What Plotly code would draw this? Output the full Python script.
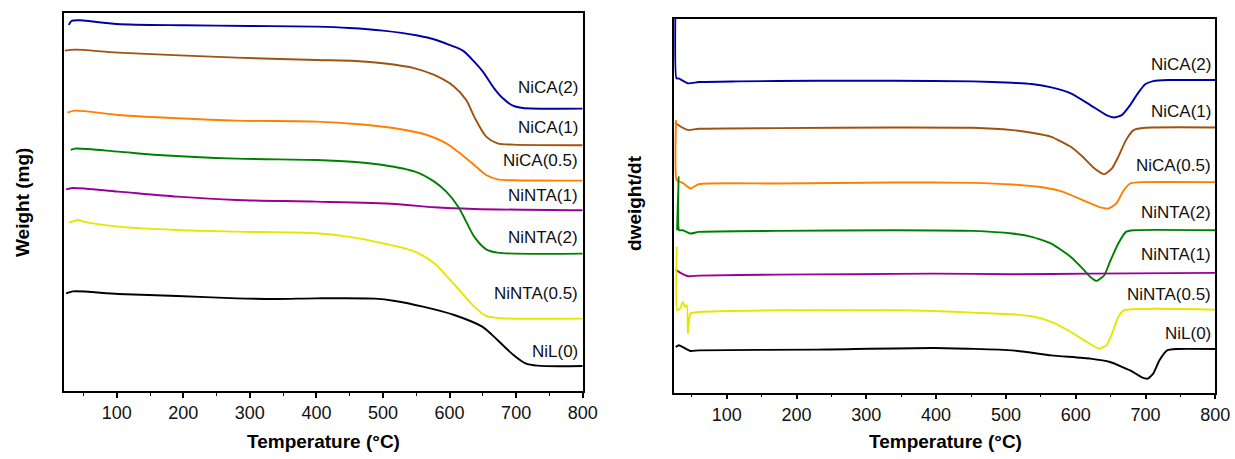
import plotly.graph_objects as go

W, H = 1235, 459

names = ["NiCA(2)", "NiCA(1)", "NiCA(0.5)", "NiNTA(1)", "NiNTA(2)", "NiNTA(0.5)", "NiL(0)"]
colors = {"NiCA(2)": "#0000aa", "NiCA(1)": "#a0520f", "NiCA(0.5)": "#ff8000",
          "NiNTA(2)": "#008000", "NiNTA(1)": "#990099", "NiNTA(0.5)": "#e6e600",
          "NiL(0)": "#000000"}

# ---------- TGA (weight, arbitrary offset units) ----------
tga_T = {
    "NiCA(2)": [28, 32, 45, 100, 200, 300, 400, 450, 500, 550, 580, 600, 620, 637, 650, 667, 680, 696, 710, 800],
    "NiCA(1)": [22, 37, 102, 280, 400, 459, 500, 548, 577, 607, 625, 637, 655, 672, 696, 800],
    "NiCA(0.5)": [26, 37, 102, 191, 280, 400, 459, 518, 566, 595, 619, 637, 655, 672, 696, 800],
    "NiNTA(2)": [31, 37, 102, 162, 280, 400, 459, 500, 548, 577, 595, 613, 625, 637, 655, 672, 800],
    "NiNTA(1)": [24, 34, 102, 191, 280, 400, 518, 577, 637, 800],
    "NiNTA(0.5)": [28, 43, 49, 102, 191, 280, 400, 447, 500, 548, 577, 601, 619, 637, 655, 672, 800],
    "NiL(0)": [24, 34, 102, 191, 280, 340, 400, 488, 518, 560, 607, 649, 672, 696, 714, 732, 800],
}
tga_W = {
    "NiCA(2)": [1098, 1110, 1112, 1101, 1097, 1095, 1093, 1089, 1081, 1067, 1053, 1038, 1021, 988, 958, 908, 878, 855, 849, 847],
    "NiCA(1)": [1021, 1024, 1015, 1000, 993, 990, 983, 968, 948, 913, 873, 823, 763, 743, 739, 737],
    "NiCA(0.5)": [835, 841, 828, 818, 811, 808, 801, 788, 768, 743, 708, 678, 648, 635, 632, 631],
    "NiNTA(2)": [723, 727, 718, 708, 697, 693, 687, 678, 658, 628, 598, 553, 508, 463, 425, 415, 412],
    "NiNTA(1)": [605, 609, 598, 583, 573, 568, 561, 551, 546, 542],
    "NiNTA(0.5)": [505, 513, 509, 493, 483, 478, 473, 463, 443, 418, 383, 333, 293, 253, 225, 219, 217],
    "NiL(0)": [293, 299, 291, 285, 278, 276, 278, 277, 270, 253, 228, 193, 153, 108, 83, 76, 75],
}
tga_label_y = {"NiCA(2)": 911, "NiCA(1)": 790, "NiCA(0.5)": 690, "NiNTA(1)": 585,
               "NiNTA(2)": 461, "NiNTA(0.5)": 291, "NiL(0)": 120}

# ---------- DTG (dweight/dt, arbitrary offset units) ----------
dtg_T = {
    "NiCA(2)": [27.5, 28, 31, 45, 60, 116, 228, 340, 453, 509, 537, 565, 593, 621, 644, 655, 666, 678, 689, 700, 711, 733, 800],
    "NiCA(1)": [25.8, 37, 45, 60, 172, 340, 453, 509, 537, 565, 593, 610, 627, 641, 652, 661, 672, 683, 700, 800],
    "NiCA(0.5)": [27.5, 28.5, 37, 48, 60, 172, 340, 453, 509, 554, 582, 610, 633, 647, 658, 669, 678, 694, 800],
    "NiNTA(2)": [29, 31, 31.8, 37, 48, 60, 172, 340, 453, 509, 537, 565, 593, 610, 621, 630, 641, 649, 661, 672, 683, 800],
    "NiNTA(1)": [27, 31.5, 45, 60, 172, 284, 397, 509, 621, 800],
    "NiNTA(0.5)": [28.5, 29, 33, 37, 40, 43, 44.4, 48, 60, 172, 340, 397, 453, 509, 537, 565, 593, 616, 633, 644, 652, 661, 669, 800],
    "NiL(0)": [27, 31.5, 48, 60, 228, 397, 509, 565, 621, 649, 678, 694, 703, 711, 720, 731, 745, 800],
}
dtg_D = {
    "NiCA(2)": [1300, 942, 942, 927, 931, 933, 935, 935, 933, 929, 925, 915, 897, 862, 832, 825, 832, 862, 897, 925, 934, 937, 937],
    "NiCA(1)": [809, 794, 787, 791, 793, 795, 794, 787, 779, 767, 737, 707, 672, 655, 672, 707, 757, 787, 794, 795],
    "NiCA(0.5)": [817, 637, 629, 612, 625, 627, 630, 629, 624, 615, 602, 577, 557, 552, 567, 607, 627, 631, 631],
    "NiNTA(2)": [487, 647, 487, 487, 477, 482, 485, 487, 485, 477, 467, 447, 407, 372, 347, 335, 352, 392, 447, 482, 487, 487],
    "NiNTA(1)": [369, 362, 349, 351, 354, 355, 357, 355, 357, 359],
    "NiNTA(0.5)": [437, 247, 252, 272, 257, 262, 177, 237, 242, 247, 247, 245, 240, 235, 229, 212, 182, 152, 132, 142, 177, 227, 247, 249],
    "NiL(0)": [137, 142, 125, 127, 129, 134, 127, 112, 102, 92, 67, 47, 42, 57, 97, 127, 131, 131],
}
dtg_label_y = {"NiCA(2)": 985, "NiCA(1)": 844, "NiCA(0.5)": 682, "NiNTA(2)": 539,
               "NiNTA(1)": 415, "NiNTA(0.5)": 295, "NiL(0)": 177}
dtg_order = ["NiCA(2)", "NiCA(1)", "NiCA(0.5)", "NiNTA(2)", "NiNTA(1)", "NiNTA(0.5)", "NiL(0)"]

x_ticks = [100, 200, 300, 400, 500, 600, 700, 800]

fig = go.Figure()
for n in names:
    fig.add_trace(go.Scatter(x=tga_T[n], y=tga_W[n], mode="lines", xaxis="x", yaxis="y",
                             line=dict(color=colors[n], width=1.9, shape="spline", smoothing=0.8),
                             showlegend=False, hoverinfo="skip"))
for n in dtg_order:
    fig.add_trace(go.Scatter(x=dtg_T[n], y=dtg_D[n], mode="lines", xaxis="x2", yaxis="y2",
                             line=dict(color=colors[n], width=1.9, shape="spline", smoothing=0.5),
                             showlegend=False, hoverinfo="skip"))

font_main = "Liberation Sans, Arial, sans-serif"
xa = dict(showline=True, linecolor="black", linewidth=1.5, mirror=True, ticks="outside",
          ticklen=5, tickwidth=1.5, tickcolor="black", tickvals=x_ticks, automargin=False,
          tickfont=dict(size=18, color="#111", family=font_main), showgrid=False, zeroline=False,
          minor=dict(ticks="outside", dtick=50, tick0=0, ticklen=3, tickwidth=1.2, tickcolor="black"))
ya = dict(showline=True, linecolor="black", linewidth=1.5, mirror=True, ticks="", automargin=False,
          showticklabels=False, showgrid=False, zeroline=False)

fig.update_layout(
    template="none",
    width=W, height=H, margin=dict(l=0, r=0, t=0, b=0, pad=0, autoexpand=False), autosize=False,
    paper_bgcolor="white", plot_bgcolor="white",
    xaxis=dict(xa, domain=[64 / W, 582.7 / W], range=[20.8, 800], anchor="y"),
    yaxis=dict(ya, domain=[(H - 391) / H, (H - 13.3) / H], range=[0, 1133], anchor="x"),
    xaxis2=dict(xa, domain=[674 / W, 1215.3 / W], range=[24.5, 800], anchor="y2"),
    yaxis2=dict(ya, domain=[(H - 392.7) / H, (H - 19) / H], range=[0, 1120], anchor="x2"),
)

ann = []
for n in names:
    ann.append(dict(x=796, y=tga_label_y[n], xref="x", yref="y", text=n, showarrow=False,
                    xanchor="right", yanchor="middle",
                    font=dict(size=17, color="#111", family=font_main)))
for n in dtg_order:
    ann.append(dict(x=796, y=dtg_label_y[n], xref="x2", yref="y2", text=n, showarrow=False,
                    xanchor="right", yanchor="middle",
                    font=dict(size=17, color="#111", family=font_main)))
title_font = dict(size=19, color="black", family=font_main)
ann += [
    dict(x=323 / W, y=1 - 441 / H, xref="paper", yref="paper", text="<b>Temperature (°C)</b>",
         showarrow=False, xanchor="center", yanchor="middle", font=title_font),
    dict(x=945 / W, y=1 - 441 / H, xref="paper", yref="paper", text="<b>Temperature (°C)</b>",
         showarrow=False, xanchor="center", yanchor="middle", font=title_font),
    dict(x=22 / W, y=1 - 203 / H, xref="paper", yref="paper", text="<b>Weight (mg)</b>",
         showarrow=False, xanchor="center", yanchor="middle", textangle=-90, font=title_font),
    dict(x=634 / W, y=1 - 203 / H, xref="paper", yref="paper", text="<b>dweight/dt</b>",
         showarrow=False, xanchor="center", yanchor="middle", textangle=-90, font=title_font),
]
fig.update_layout(annotations=ann)

fig.write_html("out.html")
